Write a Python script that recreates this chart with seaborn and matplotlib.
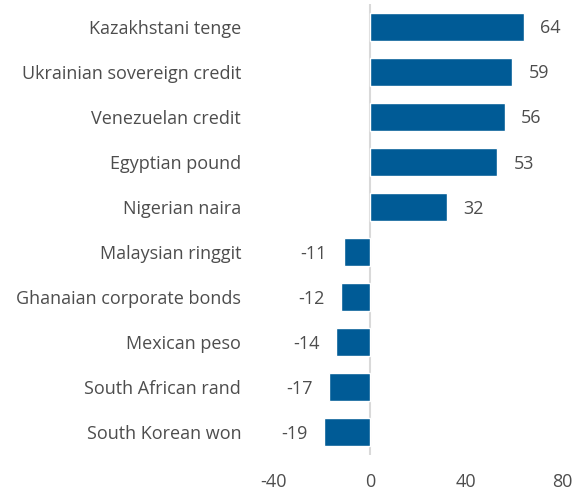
import pandas as pd
import seaborn as sns
import matplotlib.pyplot as plt


categories = [
    "Kazakhstani tenge",
    "Ukrainian sovereign credit",
    "Venezuelan credit",
    "Egyptian pound",
    "Nigerian naira",
    "Malaysian ringgit",
    "Ghanaian corporate bonds",
    "Mexican peso",
    "South African rand",
    "South Korean won",
]
values = [64, 59, 56, 53, 32, -11, -12, -14, -17, -19]
x_ticks = [-40, 0, 40, 80]

BAR_COLOR = "#005b96"
TEXT_COLOR = "#4d4d4d"


def main():
    sns.set_style("white")
    plt.rcParams["font.family"] = ["Open Sans", "DejaVu Sans"]
    plt.rcParams["axes.unicode_minus"] = False

    df = pd.DataFrame({"asset": categories, "value": values})

    fig = plt.figure(figsize=(5.84, 4.95), dpi=100)
    ax = fig.add_axes([0.4486, 0.081, 0.5224, 0.91])

    sns.barplot(data=df, x="value", y="asset", color=BAR_COLOR,
                width=0.62, saturation=1, ax=ax)

    ax.axvline(0, color="#d9d9d9", lw=1.5, zorder=0)

    # value labels next to the bar ends
    for i, v in enumerate(values):
        dx = 12 if v > 0 else -12
        ax.annotate(str(v), (v, i), xytext=(dx, -1), textcoords="offset points",
                    ha="left" if v > 0 else "right", va="center",
                    fontsize=13, color=TEXT_COLOR)

    ax.set_xlim(-45, 82)
    ax.set_xticks(x_ticks)
    ax.set_xlabel("")
    ax.set_ylabel("")
    ax.tick_params(axis="both", length=0, labelsize=13, labelcolor=TEXT_COLOR)
    ax.tick_params(axis="y", pad=15)
    ax.tick_params(axis="x", pad=13)
    sns.despine(ax=ax, left=True, bottom=True)

    fig.savefig("out.png", dpi=100)


if __name__ == '__main__':
    main()
